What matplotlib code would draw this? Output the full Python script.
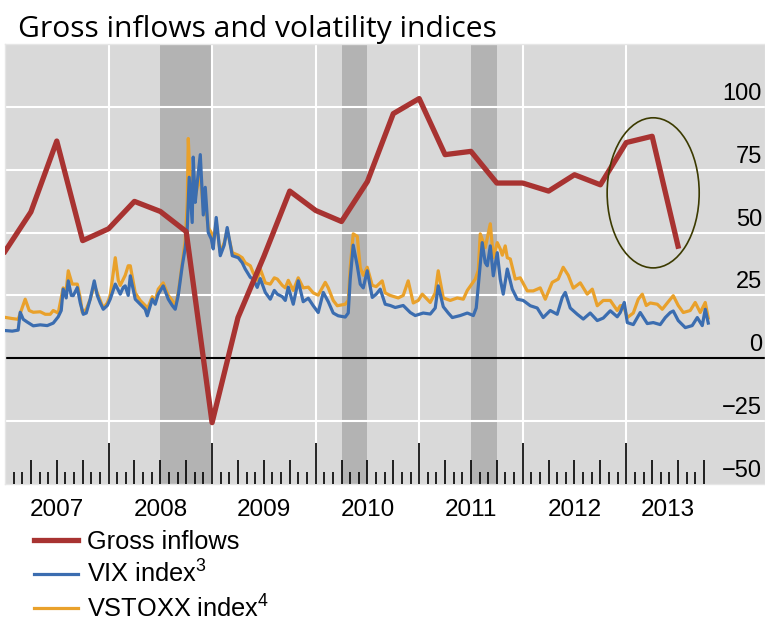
import matplotlib
matplotlib.use("Agg")
import matplotlib.pyplot as plt
from matplotlib.patches import Ellipse

plt.rcParams['font.family'] = ['Liberation Sans', 'DejaVu Sans']
plt.rcParams['mathtext.fontset'] = 'custom'
plt.rcParams['mathtext.rm'] = 'Liberation Sans'
plt.rcParams['mathtext.default'] = 'regular'

# ---- data ----
# gross inflows, quarterly
gross_dates = [2007.0, 2007.25, 2007.5, 2007.75, 2008.0, 2008.25, 2008.5, 2008.75,
               2009.0, 2009.25, 2009.5, 2009.75, 2010.0, 2010.25, 2010.5, 2010.75,
               2011.0, 2011.25, 2011.5, 2011.75, 2012.0, 2012.25, 2012.5, 2012.75,
               2013.0, 2013.25, 2013.5]
gross_vals = [42.5, 58.2, 86.4, 46.8, 51.5, 62.4, 58.4, 50.4,
              -25.6, 16.2, 40.5, 66.5, 58.8, 54.4, 70.3, 97.3,
              103.3, 81.0, 82.3, 69.7, 69.7, 66.5, 73.0, 69.0,
              85.8, 88.3, 44.6]

vix_dates = [2007.012, 2007.070, 2007.127, 2007.147, 2007.176, 2007.215, 2007.273, 2007.340,
             2007.408, 2007.466, 2007.514, 2007.543, 2007.562, 2007.591, 2007.611, 2007.640,
             2007.659, 2007.698, 2007.727, 2007.756, 2007.785, 2007.823, 2007.862, 2007.891,
             2007.920, 2007.949, 2007.988, 2008.016, 2008.065, 2008.113, 2008.142, 2008.161,
             2008.190, 2008.210, 2008.258, 2008.306, 2008.354, 2008.374, 2008.422, 2008.451,
             2008.480, 2008.528, 2008.577, 2008.615, 2008.644, 2008.673, 2008.712, 2008.741,
             2008.760, 2008.779, 2008.789, 2008.808, 2008.818, 2008.837, 2008.857, 2008.886,
             2008.915, 2008.934, 2008.963, 2008.992, 2009.011, 2009.040, 2009.079, 2009.117,
             2009.146, 2009.195, 2009.253, 2009.291, 2009.320, 2009.369, 2009.397, 2009.436,
             2009.465, 2009.514, 2009.562, 2009.601, 2009.630, 2009.678, 2009.707, 2009.736,
             2009.784, 2009.832, 2009.880, 2009.929, 2009.977, 2010.025, 2010.074, 2010.122,
             2010.170, 2010.218, 2010.286, 2010.315, 2010.334, 2010.363, 2010.402, 2010.431,
             2010.460, 2010.498, 2010.547, 2010.585, 2010.624, 2010.672, 2010.720, 2010.769,
             2010.846, 2010.914, 2010.962, 2011.039, 2011.107, 2011.155, 2011.184, 2011.233,
             2011.281, 2011.320, 2011.397, 2011.465, 2011.523, 2011.551, 2011.571, 2011.609,
             2011.638, 2011.658, 2011.687, 2011.716, 2011.754, 2011.783, 2011.812, 2011.851,
             2011.899, 2011.947, 2012.005, 2012.073, 2012.140, 2012.198, 2012.266, 2012.333,
             2012.382, 2012.411, 2012.459, 2012.527, 2012.585, 2012.652, 2012.720, 2012.778,
             2012.846, 2012.913, 2012.942, 2012.981, 2013.010, 2013.068, 2013.135, 2013.203,
             2013.261, 2013.328, 2013.377, 2013.425, 2013.454, 2013.502, 2013.570, 2013.637,
             2013.686, 2013.734, 2013.763, 2013.792]
vix_vals = [11.0, 10.8, 11.2, 18.3, 15.5, 14.4, 12.9, 13.3,
            13.0, 14.0, 16.5, 19.0, 27.5, 24.0, 30.8, 25.0,
            24.9, 28.1, 22.0, 17.5, 18.0, 23.5, 30.8, 25.0,
            22.0, 19.5, 21.0, 23.5, 29.5, 25.5, 28.2, 28.8,
            25.0, 32.8, 23.5, 21.5, 19.5, 16.9, 23.5, 21.5,
            25.5, 28.8, 23.5, 21.0, 19.5, 25.0, 36.8, 44.0,
            51.5, 72.0, 66.0, 54.0, 80.0, 62.0, 70.0, 81.0,
            57.0, 68.0, 50.0, 47.5, 43.5, 56.0, 40.8, 45.0,
            52.0, 40.8, 40.0, 38.0, 35.5, 32.2, 31.5, 28.2,
            31.7, 26.2, 23.5, 27.0, 25.5, 24.5, 23.0, 28.3,
            21.5, 30.8, 22.5, 23.9, 20.9, 18.2, 26.2, 22.5,
            18.0, 16.9, 16.4, 18.0, 31.5, 45.0, 36.8, 29.5,
            28.0, 34.8, 24.2, 25.5, 27.5, 21.5, 21.0, 20.2,
            21.0, 18.2, 17.0, 18.0, 17.6, 20.0, 28.8, 20.5,
            18.0, 16.2, 17.0, 18.0, 17.0, 20.0, 28.8, 46.0,
            38.0, 36.8, 44.7, 32.8, 42.0, 31.5, 25.5, 35.5,
            27.5, 23.5, 23.0, 20.9, 20.0, 16.2, 19.0, 17.5,
            24.2, 26.2, 20.0, 17.5, 15.6, 18.0, 15.0, 16.0,
            18.9, 16.5, 18.2, 22.2, 14.2, 13.4, 18.2, 13.8,
            14.2, 13.4, 16.2, 18.2, 18.8, 15.0, 12.2, 13.0,
            16.2, 13.0, 19.5, 14.0]

vstoxx_dates = [2007.012, 2007.070, 2007.127, 2007.157, 2007.195, 2007.234, 2007.273, 2007.340,
                2007.389, 2007.437, 2007.466, 2007.514, 2007.562, 2007.591, 2007.611, 2007.649,
                2007.698, 2007.727, 2007.746, 2007.785, 2007.823, 2007.862, 2007.891, 2007.949,
                2007.988, 2008.016, 2008.065, 2008.094, 2008.113, 2008.161, 2008.190, 2008.210,
                2008.258, 2008.306, 2008.354, 2008.374, 2008.422, 2008.451, 2008.480, 2008.528,
                2008.577, 2008.615, 2008.644, 2008.673, 2008.712, 2008.741, 2008.760, 2008.770,
                2008.789, 2008.808, 2008.818, 2008.837, 2008.857, 2008.886, 2008.915, 2008.934,
                2008.963, 2008.992, 2009.011, 2009.040, 2009.079, 2009.117, 2009.146, 2009.195,
                2009.253, 2009.291, 2009.320, 2009.369, 2009.397, 2009.436, 2009.465, 2009.514,
                2009.562, 2009.601, 2009.630, 2009.678, 2009.707, 2009.736, 2009.784, 2009.832,
                2009.880, 2009.929, 2009.977, 2010.025, 2010.093, 2010.122, 2010.170, 2010.209,
                2010.286, 2010.315, 2010.334, 2010.363, 2010.402, 2010.431, 2010.460, 2010.498,
                2010.547, 2010.585, 2010.643, 2010.672, 2010.720, 2010.798, 2010.846, 2010.894,
                2010.943, 2010.991, 2011.030, 2011.107, 2011.155, 2011.184, 2011.233, 2011.300,
                2011.368, 2011.426, 2011.465, 2011.542, 2011.571, 2011.590, 2011.638, 2011.687,
                2011.716, 2011.754, 2011.783, 2011.803, 2011.831, 2011.851, 2011.880, 2011.928,
                2011.976, 2012.044, 2012.102, 2012.169, 2012.218, 2012.285, 2012.343, 2012.391,
                2012.440, 2012.488, 2012.556, 2012.623, 2012.672, 2012.720, 2012.778, 2012.846,
                2012.913, 2012.942, 2012.971, 2013.010, 2013.068, 2013.116, 2013.155, 2013.193,
                2013.232, 2013.300, 2013.348, 2013.406, 2013.454, 2013.502, 2013.551, 2013.618,
                2013.666, 2013.715, 2013.763, 2013.792]
vstoxx_vals = [16.2, 15.8, 15.5, 19.0, 23.5, 19.0, 18.3, 18.5,
               17.5, 17.5, 19.0, 18.0, 28.0, 27.0, 34.8, 29.5,
               29.5, 24.0, 18.3, 19.5, 23.5, 29.0, 26.0, 20.0,
               22.0, 25.0, 40.0, 31.0, 29.0, 33.0, 36.8, 36.8,
               26.0, 23.0, 21.0, 19.5, 24.5, 23.0, 27.5, 30.0,
               25.0, 23.0, 21.0, 26.0, 38.0, 47.0, 62.0, 87.4,
               70.0, 60.0, 75.0, 64.0, 68.0, 72.0, 60.0, 62.0,
               52.0, 50.0, 46.0, 54.0, 42.0, 46.0, 51.0, 42.0,
               41.0, 40.0, 38.0, 36.8, 34.0, 31.0, 35.6, 30.0,
               29.5, 32.0, 31.5, 29.0, 28.0, 31.0, 27.0, 32.0,
               28.0, 28.3, 26.0, 25.1, 30.2, 28.0, 23.0, 20.9,
               21.5, 23.0, 36.0, 49.5, 48.5, 36.0, 33.0, 36.2,
               29.0, 28.5, 30.8, 26.0, 25.0, 24.0, 25.0, 30.8,
               22.0, 23.0, 25.5, 22.2, 26.0, 34.8, 24.0, 23.0,
               24.0, 23.5, 27.0, 31.5, 35.0, 49.5, 44.0, 53.5,
               40.0, 46.0, 43.5, 41.0, 44.7, 40.0, 39.5, 31.5,
               32.0, 26.8, 26.8, 28.0, 23.5, 30.2, 31.5, 36.2,
               33.0, 27.9, 30.0, 25.5, 27.5, 20.9, 23.0, 23.0,
               19.0, 20.9, 21.0, 16.2, 18.0, 23.5, 25.5, 21.0,
               22.0, 21.5, 19.5, 22.5, 24.9, 21.0, 18.2, 19.0,
               22.2, 18.2, 22.2, 16.0]

# shaded periods
shade_periods = [(2008.5, 2009.0), (2010.25, 2010.5), (2011.5, 2011.75)]
year_labels = ['2007', '2008', '2009', '2010', '2011', '2012', '2013']
y_ticks = [-50, -25, 0, 25, 50, 75, 100]

red = '#a83331'
blue = '#3b6db0'
orange = '#e9a12b'

fig = plt.figure(figsize=(7.65, 6.24), dpi=100)
ax = fig.add_axes([5 / 765, 1 - 484 / 624, 760 / 765, 440 / 624])
ax.set_facecolor('#d9d9d9')
ax.set_xlim(2007.0, 2014.34)
ax.set_ylim(-50, 125)

for a, b in shade_periods:
    ax.axvspan(a, b, color='#b3b3b3', lw=0, zorder=0.5)

for v in y_ticks:
    if v == 0:
        ax.axhline(0, color='black', lw=1.5, zorder=2)
    elif v > -50:
        ax.axhline(v, color='white', lw=1.5, zorder=1)
for yr in range(2008, 2014):
    ax.axvline(yr, color='white', lw=1.5, zorder=1)

# month / quarter / year ticks along the bottom
trans = ax.get_xaxis_transform()
for yr in range(2007, 2014):
    for m in range(12):
        if yr == 2007 and m == 0:
            continue
        if yr == 2013 and m > 9:
            break
        if m == 0:
            h = 41
        elif m % 3 == 0:
            h = 24
        else:
            h = 12
        ax.plot([yr + m / 12] * 2, [0, h / 440], transform=trans, color='black',
                lw=1.2, solid_capstyle='butt', zorder=3)

ax.plot(vstoxx_dates, vstoxx_vals, color=orange, lw=2.3, zorder=4, label='VSTOXX index$^4$')
ax.plot(vix_dates, vix_vals, color=blue, lw=2.3, zorder=5, label='VIX index$^3$')
ax.plot(gross_dates, gross_vals, color=red, lw=3.8, zorder=6, label='Gross inflows')

ax.add_patch(Ellipse((2013.26, 65.8), 0.889, 59.7, fill=False, ec='#3b3a00', lw=1.2, zorder=7))

# y labels sit just above their gridline, on the right
for v in y_ticks:
    txt = str(v).replace('-', '\u2212')
    ax.annotate(txt, xy=(0.996, v), xycoords=('axes fraction', 'data'),
                xytext=(0, 5), textcoords='offset points', ha='right', va='baseline',
                fontsize=17, zorder=8)

ax.set_xticks([])
ax.set_yticks([])
for s in ax.spines.values():
    s.set_color('#e6e6e6')
    s.set_linewidth(1)

for i, lab in enumerate(year_labels):
    xpos = 2007.5 + i if lab != '2013' else 2013.4
    ax.text(xpos, -0.035, lab, transform=trans, ha='center', va='top', fontsize=17.5)

fig.text(18 / 765, 1 - 37 / 624, 'Gross inflows and volatility indices',
         fontsize=21.6, family=['Open Sans', 'DejaVu Sans'], va='baseline')

h, l = ax.get_legend_handles_labels()
order = [2, 1, 0]
leg = fig.legend([h[i] for i in order], [l[i] for i in order], loc='upper left',
                 bbox_to_anchor=(34 / 765, 1 - 530 / 624), frameon=False, fontsize=18.3,
                 handlelength=1.73, handletextpad=0.36, labelspacing=0.27,
                 borderaxespad=0, borderpad=0)

fig.savefig('out.png', dpi=100)
